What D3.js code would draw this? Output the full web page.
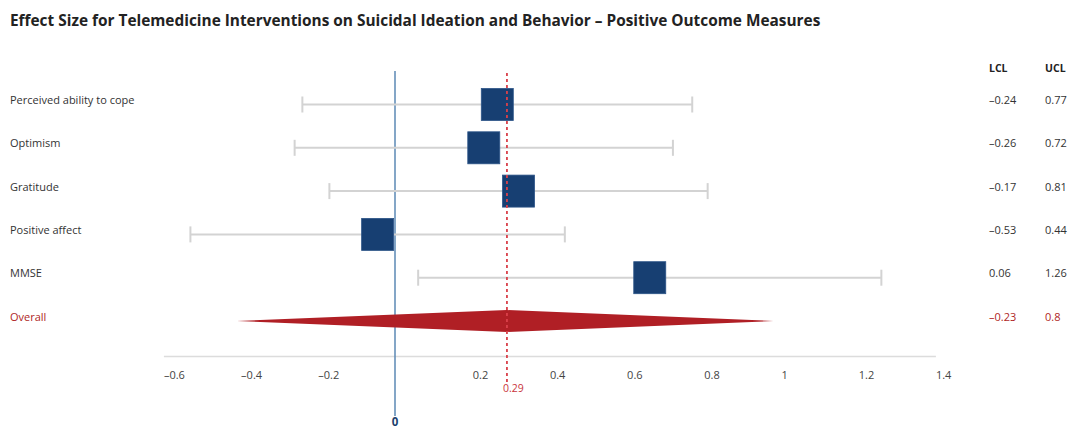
<!DOCTYPE html>
<html>
<head>
<meta charset="utf-8">
<script src="https://cdn.jsdelivr.net/npm/d3@7"></script>
<style>
  html, body { margin: 0; padding: 0; background: #fff; }
  svg { display: block; }
  text { font-family: "Open Sans", "Liberation Sans", sans-serif; }
</style>
</head>
<body>
<svg id="chart" width="1070" height="432"></svg>
<script>
// Outcome measures and their effect sizes with confidence limits
const outcomes = ["Perceived ability to cope", "Optimism", "Gratitude", "Positive affect", "MMSE"];
const effect   = [0.265, 0.23, 0.32, -0.045, 0.66];
const lcl      = [-0.24, -0.26, -0.17, -0.53, 0.06];
const ucl      = [0.77, 0.72, 0.81, 0.44, 1.26];

// Pooled estimate
const overallLabel = "Overall";
const overallEffect = 0.29;
const overallLCL = -0.23;
const overallUCL = 0.8;
const overallSpan = [-0.41, 0.98];

const tickValues = [-0.6, -0.4, -0.2, 0.2, 0.4, 0.6, 0.8, 1, 1.2, 1.4];
const titleText = "Effect Size for Telemedicine Interventions on Suicidal Ideation and Behavior \u2013 Positive Outcome Measures";

const svg = d3.select("#chart");

const x = d3.scaleLinear().domain([-0.6, 1.4]).range([163.4, 935.4]);
const y = d3.scalePoint().domain([...outcomes, overallLabel]).range([104.5, 321]);

const axisY = 356;
const fmt = v => d3.format("")(v).replace("\u2212", "\u2013");

// Title
svg.append("text")
  .attr("x", 10).attr("y", 26)
  .attr("font-size", 15.4).attr("font-weight", 700)
  .attr("fill", "#222")
  .text(titleText);

// Axis
const axis = svg.append("g")
  .attr("transform", `translate(0,${axisY})`)
  .call(d3.axisBottom(x).tickValues(tickValues).tickSize(0).tickPadding(15).tickFormat(fmt));
axis.select(".domain").attr("stroke", "#dcdcdc").attr("stroke-width", 1.5);
axis.selectAll("text")
  .attr("text-anchor", "start")
  .attr("font-size", 11)
  .attr("font-family", "\"Open Sans\", sans-serif")
  .attr("fill", "#444");

// Zero reference line
svg.append("line")
  .attr("x1", x(0)).attr("x2", x(0))
  .attr("y1", 71).attr("y2", 416)
  .attr("stroke", "#5b88b5").attr("stroke-width", 1.5);
svg.append("text")
  .attr("x", x(0)).attr("y", 426)
  .attr("text-anchor", "middle")
  .attr("font-size", 11.5).attr("font-weight", 700)
  .attr("fill", "#1d3f6e")
  .text("0");

// Confidence intervals
const rows = outcomes.map((name, i) => ({ name, effect: effect[i], lcl: lcl[i], ucl: ucl[i] }));
const ci = svg.append("g").attr("stroke", "#d3d3d3").attr("stroke-width", 2);
rows.forEach(d => {
  const cy = y(d.name);
  ci.append("line").attr("x1", x(d.lcl)).attr("x2", x(d.ucl)).attr("y1", cy).attr("y2", cy);
  ci.append("line").attr("x1", x(d.lcl)).attr("x2", x(d.lcl)).attr("y1", cy - 8).attr("y2", cy + 8);
  ci.append("line").attr("x1", x(d.ucl)).attr("x2", x(d.ucl)).attr("y1", cy - 8).attr("y2", cy + 8);
});

// Overall diamond
const oy = y(overallLabel);
svg.append("path")
  .attr("d", d3.line()([
    [x(overallSpan[0]), oy],
    [x(overallEffect), oy - 11],
    [x(overallSpan[1]), oy],
    [x(overallEffect), oy + 11]
  ]) + "Z")
  .attr("fill", "#b01f25");

// Effect-size squares
const size = 32;
svg.append("g").selectAll("rect")
  .data(rows)
  .join("rect")
  .attr("x", d => x(d.effect) - size / 2)
  .attr("y", d => y(d.name) - size / 2)
  .attr("width", size).attr("height", size)
  .attr("fill", "#173f72")
  .attr("stroke", "#2c5488").attr("stroke-width", 0.8);

// Pooled estimate line
svg.append("line")
  .attr("x1", x(overallEffect)).attr("x2", x(overallEffect))
  .attr("y1", 73).attr("y2", 384)
  .attr("stroke", "#d9414a").attr("stroke-width", 1.8)
  .attr("stroke-dasharray", "3,3");
svg.append("text")
  .attr("x", x(overallEffect) - 4).attr("y", 392)
  .attr("font-size", 10.5).attr("fill", "#c9343c")
  .text(fmt(overallEffect));

// Row labels
const labelRows = [...rows, { name: overallLabel, lcl: overallLCL, ucl: overallUCL, overall: true }];
svg.append("g").selectAll("text")
  .data(labelRows)
  .join("text")
  .attr("x", 10).attr("y", d => y(d.name) - 0.5)
  .attr("font-size", 11)
  .attr("fill", d => d.overall ? "#b01f25" : "#333")
  .text(d => d.name);

// LCL / UCL columns
svg.append("text").attr("x", 989).attr("y", 72)
  .attr("font-size", 10.5).attr("font-weight", 700).attr("fill", "#222").text("LCL");
svg.append("text").attr("x", 1045).attr("y", 72)
  .attr("font-size", 10.5).attr("font-weight", 700).attr("fill", "#222").text("UCL");
const cols = svg.append("g").attr("font-size", 11);
labelRows.forEach(d => {
  const c = d.overall ? "#b01f25" : "#333";
  cols.append("text").attr("x", 989).attr("y", y(d.name) - 0.5).attr("fill", c).text(fmt(d.lcl));
  cols.append("text").attr("x", 1045).attr("y", y(d.name) - 0.5).attr("fill", c).text(fmt(d.ucl));
});
</script>
</body>
</html>
